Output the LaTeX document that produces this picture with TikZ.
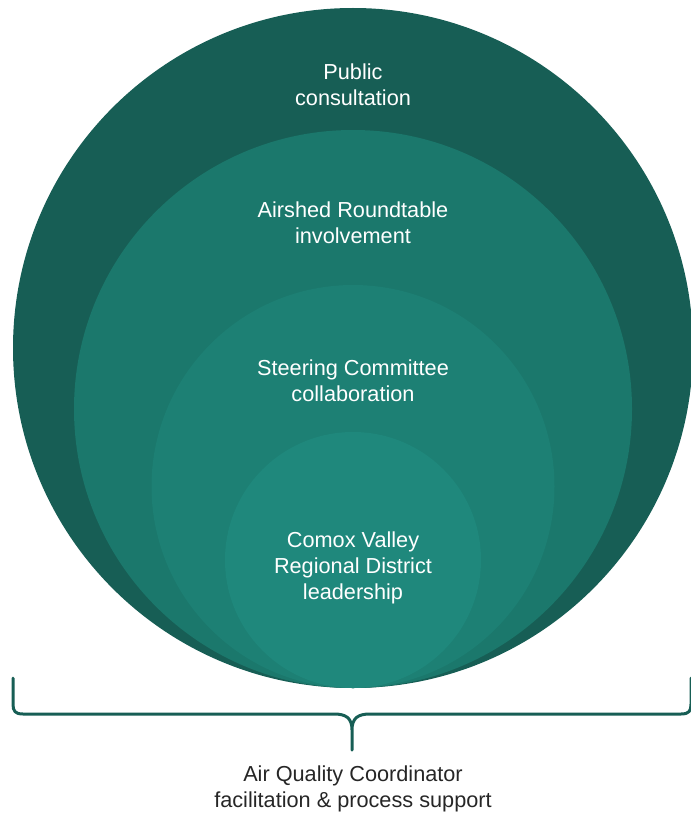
\documentclass[tikz,border=0pt]{standalone}
\usepackage{fontspec}
\setmainfont{Liberation Sans}
\definecolor{ringA}{RGB}{23,94,85}
\definecolor{ringB}{RGB}{27,120,108}
\definecolor{ringC}{RGB}{29,128,116}
\definecolor{ringD}{RGB}{31,136,124}
\begin{document}
\begin{tikzpicture}[x=1pt,y=-1pt]
        \tikzstyle{ring}=[circle, inner sep=0pt, draw=none];
        \tikzstyle{lbl}=[align=center, text=white, font=\fontsize{21.7}{26.3}\selectfont];
        \useasboundingbox (0,0) rectangle (690,813);
        \node (public) [ring, fill=ringA, minimum size=680pt] at (353,348) {};
        \node (airshed) [ring, fill=ringB, minimum size=558pt] at (353,409) {};
        \node (steering) [ring, fill=ringC, minimum size=403pt] at (353,486.5) {};
        \node (comox) [ring, fill=ringD, minimum size=256pt] at (353,560) {};
        \node (publictext) [lbl] at (353,85) {Public\\consultation};
        \node (airshedtext) [lbl] at (353,223) {Airshed Roundtable\\involvement};
        \node (steeringtext) [lbl] at (353,381) {Steering Committee\\collaboration};
        \node (comoxtext) [lbl] at (353,568) {Comox Valley\\Regional District\\leadership};
        \node (aqc) [lbl, text=black!85] at (353,789) {Air Quality Coordinator\\facilitation \& process support};
        \coordinate (braceL) at (13,678);
        \coordinate (braceR) at (691,678);
        \coordinate (braceTip) at (352,750);
        \draw [ringA, line width=3pt, line cap=round, line join=round]
            (braceL) -- (13,704) .. controls (13,711) and (15,714) .. (23,714) -- (334,714)
            .. controls (346,714) and (352,718) .. (352,730) -- (braceTip)
            (352,730) .. controls (352,718) and (358,714) .. (370,714) -- (681,714)
            .. controls (689,714) and (691,711) .. (691,704) -- (braceR);
    \end{tikzpicture}
\end{document}
